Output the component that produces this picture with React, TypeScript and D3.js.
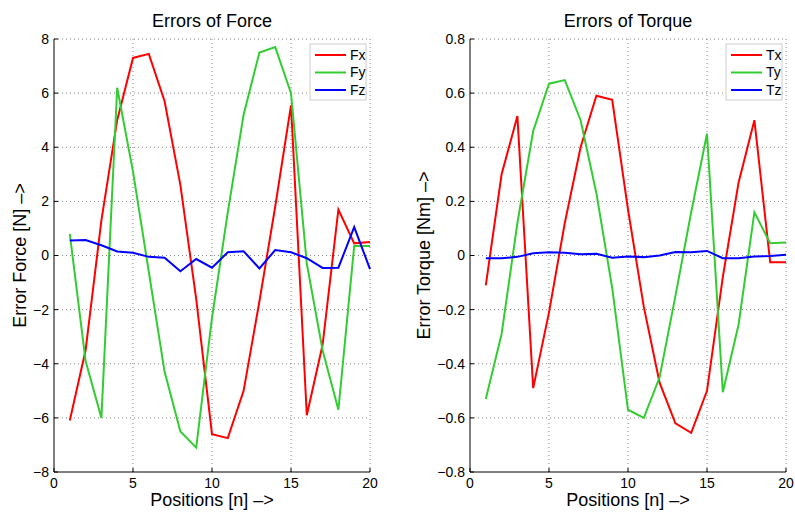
import React from "react";
import * as d3 from "d3";

const positions = d3.range(1, 21);

const fx = [-6.1, -3.5, 1.3, 5.0, 7.3, 7.45, 5.7, 2.6, -1.6, -6.6, -6.75, -5.0, -1.7, 1.8, 5.55, -5.9, -3.3, 1.7, 0.45, 0.5];
const fy = [0.8, -3.9, -6.0, 6.2, 3.1, -0.6, -4.3, -6.5, -7.1, -2.3, 1.6, 5.2, 7.5, 7.7, 6.0, -0.3, -3.5, -5.7, 0.35, 0.35];
const fz = [0.55, 0.57, 0.38, 0.15, 0.1, -0.05, -0.08, -0.58, -0.13, -0.45, 0.12, 0.16, -0.48, 0.2, 0.12, -0.1, -0.46, -0.45, 1.05, -0.5];

const tx = [-0.11, 0.3, 0.515, -0.49, -0.21, 0.12, 0.4, 0.59, 0.575, 0.17, -0.19, -0.47, -0.62, -0.655, -0.5, -0.08, 0.27, 0.5, -0.025, -0.025];
const ty = [-0.53, -0.29, 0.12, 0.46, 0.635, 0.648, 0.5, 0.23, -0.12, -0.57, -0.6, -0.45, -0.15, 0.16, 0.45, -0.505, -0.255, 0.16, 0.045, 0.048];
const tz = [-0.01, -0.01, -0.005, 0.008, 0.012, 0.01, 0.005, 0.006, -0.008, -0.004, -0.006, 0.0, 0.013, 0.012, 0.017, -0.01, -0.01, -0.004, -0.002, 0.003];

const xTicks = [0, 5, 10, 15, 20];
const forceTicks = [-8, -6, -4, -2, 0, 2, 4, 6, 8];
const torqueTicks = [-0.8, -0.6, -0.4, -0.2, 0, 0.2, 0.4, 0.6, 0.8];

const colors = ["#ff0000", "#33cc33", "#0000ff"];
const FONT = "'Liberation Sans', Arial, Helvetica, sans-serif";

type PanelProps = {
  left: number;
  title: string;
  ylabel: string;
  ylabelX: number;
  yDomain: [number, number];
  yTicks: number[];
  fmt: (v: number) => string;
  series: number[][];
  names: string[];
};

const fmtMinus = (s: string) => s.replace("-", "\u2212");

function Panel({ left, title, ylabel, ylabelX, yDomain, yTicks, fmt, series, names }: PanelProps) {
  const top = 39;
  const width = 316;
  const height = 433;
  const x = d3.scaleLinear().domain([0, 20]).range([left, left + width]);
  const y = d3.scaleLinear().domain(yDomain).range([top + height, top]);
  const line = d3
    .line<number>()
    .x((_, i) => x(positions[i]))
    .y((d) => y(d));
  const legX = left + width - 60;
  const legY = 44;
  return (
    <g fontFamily={FONT}>
      {xTicks.filter((t) => t !== 0).map((t) => (
        <line key={"gx" + t} x1={x(t)} x2={x(t)} y1={top} y2={top + height} stroke="#666" strokeWidth={0.8} strokeDasharray="1,3" />
      ))}
      {yTicks.filter((t) => t !== yDomain[0]).map((t) => (
        <line key={"gy" + t} x1={left} x2={left + width} y1={y(t)} y2={y(t)} stroke="#666" strokeWidth={0.8} strokeDasharray="1,3" />
      ))}
      <line x1={left} x2={left} y1={top} y2={top + height} stroke="#000" strokeWidth={1} />
      <line x1={left} x2={left + width} y1={top + height} y2={top + height} stroke="#000" strokeWidth={1} />
      {yTicks.map((t) => (
        <g key={"yt" + t}>
          <line x1={left} x2={left + 4} y1={y(t)} y2={y(t)} stroke="#000" />
          <text x={left - 5} y={y(t)} dy="0.35em" textAnchor="end" fontSize={14}>
            {fmtMinus(fmt(t))}
          </text>
        </g>
      ))}
      {xTicks.map((t) => (
        <g key={"xt" + t}>
          <line x1={x(t)} x2={x(t)} y1={top + height} y2={top + height - 4} stroke="#000" />
          <text x={x(t)} y={top + height + 16} textAnchor="middle" fontSize={14}>
            {t}
          </text>
        </g>
      ))}
      {series.map((s, i) => (
        <path key={"s" + i} d={line(s) || ""} fill="none" stroke={colors[i]} strokeWidth={2} strokeLinejoin="miter" />
      ))}
      <text x={left + width / 2} y={27} textAnchor="middle" fontSize={18}>
        {title}
      </text>
      <text x={left + width / 2} y={506} textAnchor="middle" fontSize={18}>
        Positions [n] –&gt;
      </text>
      <text transform={`translate(${ylabelX},${top + height / 2}) rotate(-90)`} textAnchor="middle" fontSize={18}>
        {ylabel}
      </text>
      <rect x={legX} y={legY} width={56} height={56} fill="#fff" stroke="#ccc" strokeWidth={1} />
      {names.map((n, i) => (
        <g key={"l" + i}>
          <line x1={legX + 5} x2={legX + 36} y1={legY + 11 + i * 17.5} y2={legY + 11 + i * 17.5} stroke={colors[i]} strokeWidth={2} />
          <text x={legX + 40} y={legY + 11 + i * 17.5} dy="0.35em" fontSize={14}>
            {n}
          </text>
        </g>
      ))}
    </g>
  );
}

export default function App() {
  return (
    <svg width={795} height={512} style={{ position: "absolute", left: 0, top: 0, background: "#fff" }}>
      <rect width={795} height={512} fill="#fff" />
      <Panel
        left={54}
        title="Errors of Force"
        ylabel="Error Force [N] –>"
        ylabelX={26}
        yDomain={[-8, 8]}
        yTicks={forceTicks}
        fmt={(v) => d3.format("d")(v)}
        series={[fx, fy, fz]}
        names={["Fx", "Fy", "Fz"]}
      />
      <Panel
        left={470}
        title="Errors of Torque"
        ylabel="Error Torque [Nm] –>"
        ylabelX={430}
        yDomain={[-0.8, 0.8]}
        yTicks={torqueTicks}
        fmt={(v) => (v === 0 ? "0" : d3.format(".1f")(v))}
        series={[tx, ty, tz]}
        names={["Tx", "Ty", "Tz"]}
      />
    </svg>
  );
}
